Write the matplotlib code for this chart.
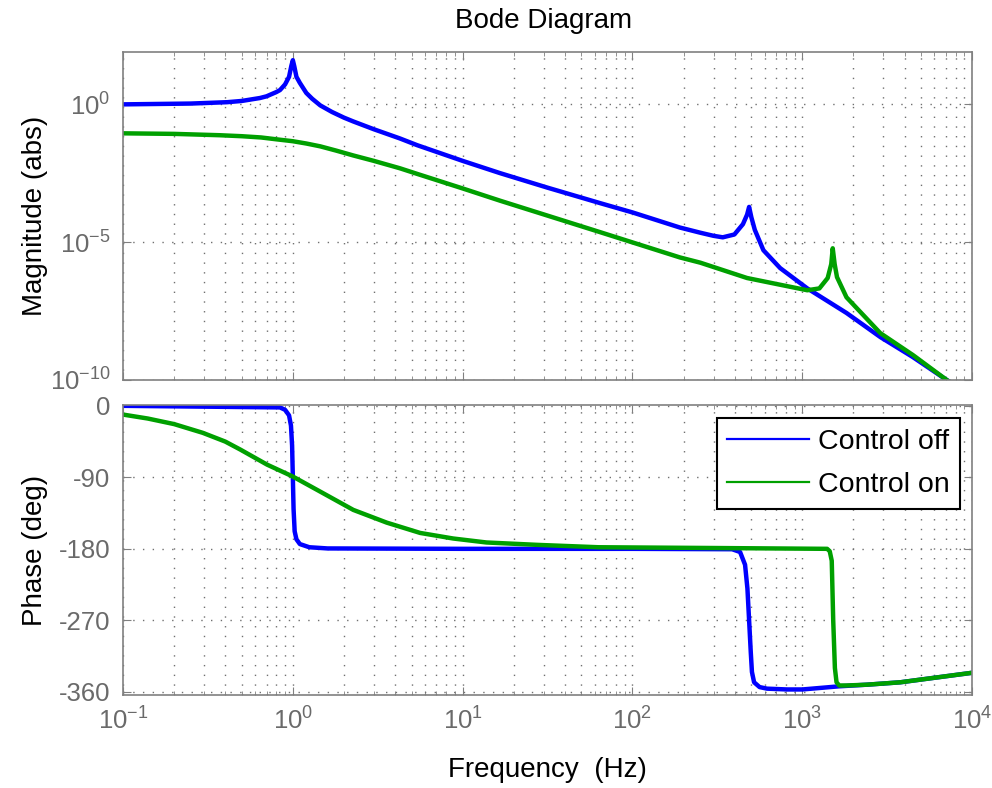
import matplotlib
matplotlib.use('Agg')
import matplotlib.pyplot as plt
from matplotlib.lines import Line2D
from matplotlib.ticker import LogLocator, FixedLocator, NullLocator, NullFormatter

# values
freq_off_mag = [0.1, 0.25, 0.41, 0.5, 0.64, 0.7, 0.8, 0.84, 0.9, 0.95, 0.98, 1.0, 1.02, 1.05, 1.1,
                1.2, 1.3, 1.45, 1.7, 2.0, 2.27, 3.0, 4.27, 5.4,
                10, 16.6, 31.6, 64.6, 100, 190, 251, 300, 340, 398, 447, 473, 486, 501, 525, 590,
                740, 1070, 1820, 2880, 4470, 7080, 10000]
mag_off = [1.0, 1.07, 1.2, 1.33, 1.7, 1.96, 2.8, 3.3, 5.3, 10, 25, 40, 24, 10, 6.0,
           2.6, 1.6, 0.92, 0.53, 0.33, 0.24, 0.125, 0.058, 0.033,
           8.9e-3, 3.2e-3, 9.5e-4, 2.6e-4, 1.2e-4, 3.4e-5, 2.2e-5, 1.7e-5, 1.5e-5, 1.9e-5, 4.5e-5, 1e-4, 1.9e-4, 8e-5, 2.8e-5, 5.1e-6,
           1.15e-6, 2.1e-7, 2.7e-8, 3.6e-9, 6.8e-10, 1e-10, 2.5e-11]

freq_on_mag = [0.1, 0.2, 0.37, 0.5, 0.65, 0.8, 1.0, 1.2, 1.45, 1.8, 2.27, 3.0, 4.27, 5.4, 10, 16.6,
               64.6, 190, 251, 473, 1070, 1260, 1410, 1480, 1510, 1550, 1600, 1820, 2880, 4470, 7080, 10000]
mag_on = [0.089, 0.085, 0.076, 0.07, 0.063, 0.054, 0.046, 0.038, 0.030, 0.021, 0.014, 8.9e-3, 4.8e-3, 3.0e-3, 8.9e-4, 3.2e-4,
          2.3e-5, 2.8e-6, 1.8e-6, 5e-7, 1.8e-7, 2.1e-7, 5e-7, 1.6e-6, 6e-6, 1.6e-6, 5.4e-7, 1e-7, 5e-9, 8.1e-10, 1e-10, 2.5e-11]

freq_off_ph = [0.1, 0.84, 0.9, 0.95, 0.975, 0.99, 1.0, 1.01, 1.025, 1.05, 1.1, 1.25, 1.6, 10, 100,
               386, 430, 460, 475, 486, 497, 505, 520, 560, 620, 813, 1000, 1660, 2400, 3770, 10000]
phase_off = [0, -2, -5, -12, -25, -50, -90, -130, -158, -168, -174, -178, -179.5, -180, -180,
             -180.5, -184, -200, -230, -270, -310, -335, -348, -354, -356, -357, -357, -353, -351, -348, -336]

freq_on_ph = [0.1, 0.14, 0.2, 0.295, 0.4, 0.49, 0.705, 1.0, 1.45, 2.27, 3.57, 5.62, 8.79, 13.8, 27.5, 63, 316,
              1400, 1450, 1490, 1520, 1555, 1590, 1650, 1820, 2400, 3770, 10000]
phase_on = [-11, -16, -23, -34, -45, -55, -74, -89, -108, -131, -147, -160, -167, -172, -175, -178, -179,
            -180, -183, -195, -270, -330, -348, -352, -352, -351, -348, -336]

labels = ['Control off', 'Control on']
colors = ['#0000ff', '#00a000']
grey = '#707070'

plt.rcParams['font.family'] = ['Liberation Sans', 'DejaVu Sans']
plt.rcParams['mathtext.fontset'] = 'custom'
plt.rcParams['mathtext.rm'] = 'Liberation Sans'
plt.rcParams['mathtext.it'] = 'Liberation Sans:italic'
plt.rcParams['mathtext.bf'] = 'Liberation Sans:bold'
plt.rcParams['axes.unicode_minus'] = False

fig = plt.figure(figsize=(9.92, 7.88), dpi=100)
ax1 = fig.add_axes([0.124, 0.5178, 0.856, 0.4162])
ax2 = fig.add_axes([0.124, 0.118, 0.856, 0.368])

ax1.plot(freq_off_mag, mag_off, color=colors[0], lw=3.2)
ax1.plot(freq_on_mag, mag_on, color=colors[1], lw=3.2)
ax2.plot(freq_off_ph, phase_off, color=colors[0], lw=3.2)
ax2.plot(freq_on_ph, phase_on, color=colors[1], lw=3.2)

for ax in (ax1, ax2):
    ax.set_xscale('log')
    ax.set_xlim(0.1, 1e4)
    ax.xaxis.set_major_locator(LogLocator(base=10, numticks=10))
    ax.xaxis.set_minor_locator(LogLocator(base=10, subs=range(2, 10), numticks=20))
    ax.xaxis.set_minor_formatter(NullFormatter())
    ax.grid(True, which='major', color=grey, linestyle=(0, (1, 6)), lw=1.0)
    ax.grid(True, which='minor', axis='x', color=grey, linestyle=(0, (1, 6)), lw=1.0)
    for s in ax.spines.values():
        s.set_color('#808080')
        s.set_linewidth(1.2)
    ax.tick_params(which='both', direction='in', top=True, right=True, colors='#808080',
                   labelcolor='#6a6a6a', labelsize=18.5)
    ax.tick_params(which='major', length=6, pad=9)
    ax.tick_params(which='minor', length=3)

ax1.set_yscale('log')
ax1.set_ylim(1e-10, 10 ** 1.9)
ax1.yaxis.set_major_locator(FixedLocator([1e-10, 1e-5, 1e0]))
ax1.yaxis.set_minor_locator(NullLocator())
ax1.tick_params(axis='x', labelbottom=False)
ax1.set_ylabel('Magnitude (abs)', fontsize=20)
ax1.yaxis.set_label_coords(-0.088, 0.5)

ax2.set_ylim(-364, 1)
ax2.set_yticks([0, -90, -180, -270, -360])
ax2.set_ylabel('Phase (deg)', fontsize=20)
ax2.yaxis.set_label_coords(-0.088, 0.5)
ax2.set_xlabel('Frequency  (Hz)', fontsize=20)
ax2.xaxis.set_label_coords(0.5, -0.215)

handles = [Line2D([], [], color=c, lw=1.6) for c in colors]
leg = ax2.legend(handles, labels, loc='upper right', bbox_to_anchor=(0.986, 0.955), borderaxespad=0,
                 fontsize=20.5, fancybox=False, framealpha=1, edgecolor='black',
                 handlelength=2.85, handletextpad=0.32, labelspacing=0.6, borderpad=0.38)
leg.get_frame().set_linewidth(1.5)

fig.text(0.548, 1 - 21 / 788, 'Bode Diagram', ha='center', va='center', fontsize=20)

fig.savefig('out.png', dpi=100)
